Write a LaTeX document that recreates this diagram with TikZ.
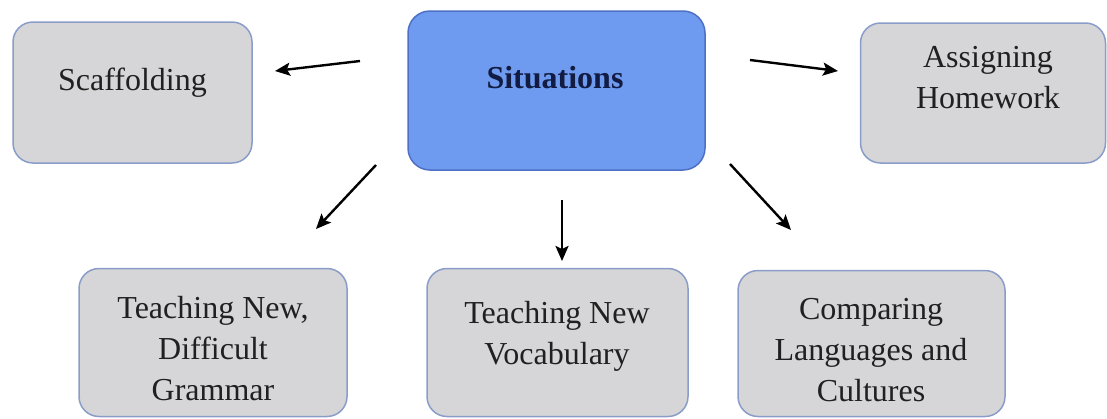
\documentclass[tikz,border=0pt]{standalone}
\usepackage{fontspec}
\setmainfont{Liberation Serif}
\usetikzlibrary{arrows.meta}
\definecolor{boxgray}{RGB}{214,214,216}
\definecolor{boxedge}{RGB}{138,156,200}
\definecolor{sitfill}{RGB}{110,154,240}
\definecolor{sitedge}{RGB}{78,112,196}
\definecolor{sittext}{RGB}{18,28,66}
\definecolor{inkgray}{RGB}{32,32,32}
\tikzset{
  box/.style={draw=boxedge, fill=boxgray, line width=1.5pt, rounded corners=20pt},
  hub/.style={draw=sitedge, fill=sitfill, line width=1.5pt, rounded corners=22pt},
  lbl/.style={inner sep=0pt, align=center, text=inkgray, font=\fontsize{32pt}{41pt}\selectfont},
  hublbl/.style={inner sep=0pt, text=sittext, font=\fontsize{32pt}{41pt}\selectfont\bfseries},
  link/.style={line width=2.4pt, draw=black, -{Stealth[length=15pt,width=13pt,inset=3pt]}}
}
\begin{document}
\begin{tikzpicture}[x=1pt,y=-1pt]
\useasboundingbox (0,0) rectangle (1107,418);

% boxes
\node[hub, minimum width=297pt, minimum height=159pt] (sit) at (556.5,90.5) {};
\node[box, minimum width=239pt, minimum height=141pt] (scaf) at (132.5,92.5) {};
\node[box, minimum width=245pt, minimum height=140pt] (home) at (983,93) {};
\node[box, minimum width=268pt, minimum height=148pt] (gram) at (213,342.5) {};
\node[box, minimum width=261pt, minimum height=148pt] (voc) at (557.5,342.5) {};
\node[box, minimum width=267pt, minimum height=146pt] (comp) at (871.5,343.5) {};

% labels
\node[hublbl, anchor=base] (sit-t) at (555,88) {Situations};
\node[lbl, anchor=base] (scaf-t) at (132.5,90) {Scaffolding};
\node[lbl] (home-t) at (988,78) {Assigning\\Homework};
\node[lbl] (gram-t) at (213,349) {Teaching New,\\Difficult\\Grammar};
\node[lbl] (voc-t) at (557,336) {Teaching New\\Vocabulary};
\node[lbl] (comp-t) at (871,350) {Comparing\\Languages and\\Cultures};

% arrow ends
\coordinate (a1s) at (360,61);  \coordinate (a1e) at (275,71);
\coordinate (a2s) at (750,60);  \coordinate (a2e) at (838,71);
\coordinate (a3s) at (376,165); \coordinate (a3e) at (316,229);
\coordinate (a4s) at (562,200); \coordinate (a4e) at (562,261);
\coordinate (a5s) at (730,164); \coordinate (a5e) at (791,230);

\draw[link] (a1s) -- (a1e);
\draw[link] (a2s) -- (a2e);
\draw[link] (a3s) -- (a3e);
\draw[link] (a4s) -- (a4e);
\draw[link] (a5s) -- (a5e);
\end{tikzpicture}
\end{document}
